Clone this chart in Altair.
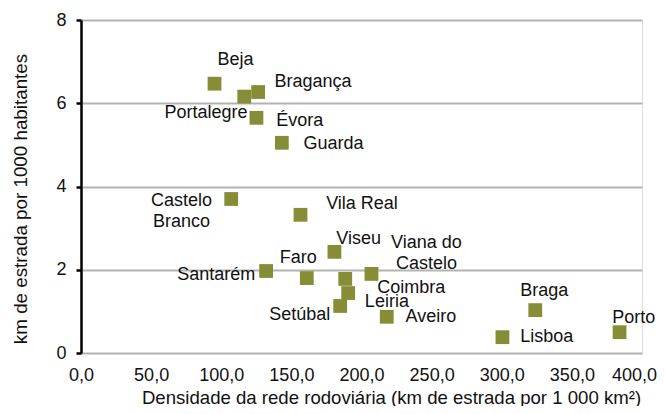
import altair as alt
import pandas as pd

# Districts
names = ["Beja", "Bragança", "Portalegre", "Évora", "Guarda", "Castelo\nBranco",
         "Vila Real", "Viseu", "Santarém", "Faro", "Coimbra", "Viana do\nCastelo",
         "Leiria", "Setúbal", "Aveiro", "Braga", "Lisboa", "Porto"]
# Road network density (km of road per 1 000 km2)
density = [95.2, 126.3, 116.4, 125.1, 143.2, 107.1,
           156.5, 180.7, 132.0, 161.0, 188.4, 207.1,
           190.5, 184.8, 218.0, 323.9, 300.5, 384.0]
# km of road per 1000 inhabitants
per_inhab = [6.47, 6.27, 6.16, 5.65, 5.05, 3.70,
             3.32, 2.43, 1.97, 1.80, 1.78, 1.90,
             1.44, 1.13, 0.87, 1.03, 0.38, 0.50]

# Label anchors (data units) and alignment, as placed in the original
label_x = [110.2, 138.0, 118.7, 139.2, 158.6, 71.7,
           174.8, 182.0, 124.2, 154.9, 211.2, 246.3,
           202.4, 177.7, 231.4, 330.3, 313.2, 409.5]
label_y = [7.04, 6.52, 5.77, 5.57, 5.02, 3.655,
           3.57, 2.75, 1.87, 2.28, 1.57, 2.645,
           1.22, 0.92, 0.86, 1.49, 0.38, 0.84]
label_align = ["center", "left", "right", "left", "left", "center",
               "left", "left", "right", "center", "left", "center",
               "left", "right", "left", "center", "left", "right"]

x_ticks = [0, 50, 100, 150, 200, 250, 300, 350, 400]
y_ticks = [0, 2, 4, 6, 8]

df = pd.DataFrame({
    "name": names, "density": density, "per_inhab": per_inhab,
    "lx": label_x, "ly": label_y, "align": label_align,
})

FONT = "Liberation Sans"
GREEN = "#878C37"

xscale = alt.Scale(domain=[0, 400], nice=False, zero=True)
yscale = alt.Scale(domain=[0, 8], nice=False)

base = alt.Chart(df)

points = base.mark_square(size=190, color=GREEN, opacity=1).encode(
    x=alt.X("density:Q", scale=xscale,
            axis=alt.Axis(values=x_ticks, grid=False, domain=False, ticks=False, tickSize=0,
                          labelExpr="replace(format(datum.value, '.1f'), '.', ',')",
                          labelFontSize=18, labelFont=FONT, labelColor="#111",
                          labelBaseline="middle", labelPadding=22, labelFlush=False,
                          labelOverlap=False,
                          labelOffset={"condition": {"test": "datum.value == 400", "value": -8},
                                       "value": 0},
                          title="Densidade da rede rodoviária (km de estrada por 1 000 km²)",
                          titleFont=FONT, titleFontSize=18.6, titleFontWeight="normal",
                          titleColor="#111", titleX=310, titleY=50,
                          titleBaseline="alphabetic", titleAlign="center")),
    y=alt.Y("per_inhab:Q", scale=yscale,
            axis=alt.Axis(values=y_ticks, grid=True, gridColor="#B3B3B3", gridWidth=2,
                          domain=True, domainColor="#000", domainWidth=2.5,
                          ticks=True, tickColor="#000", tickWidth=2.5, tickSize=5,
                          labelFontSize=18, labelFont=FONT, labelColor="#111",
                          labelPadding=10, labelFlush=False,
                          title="km de estrada por 1000 habitantes",
                          titleFont=FONT, titleFontSize=18.8, titleFontWeight="normal",
                          titleColor="#111", titleAngle=270, titleX=-61, titleY=178.5,
                          titleBaseline="middle", titleAlign="center")),
)

labels = []
for al in ["left", "center", "right"]:
    labels.append(
        base.transform_filter(alt.datum.align == al).mark_text(
            align=al, baseline="middle", font=FONT, fontSize=18, color="#111",
            lineBreak="\n", lineHeight=21.6,
        ).encode(
            x=alt.X("lx:Q", scale=xscale),
            y=alt.Y("ly:Q", scale=yscale),
            text="name:N",
        )
    )

chart = alt.layer(points, *labels).properties(
    width=561, height=333,
    autosize=alt.AutoSizeParams(type="none"),
    padding={"left": 73, "top": 12, "right": 15, "bottom": 53},
).configure_view(stroke=None).configure(background="white")

chart.save("out.html", embed_options={"renderer": "svg", "actions": False})
